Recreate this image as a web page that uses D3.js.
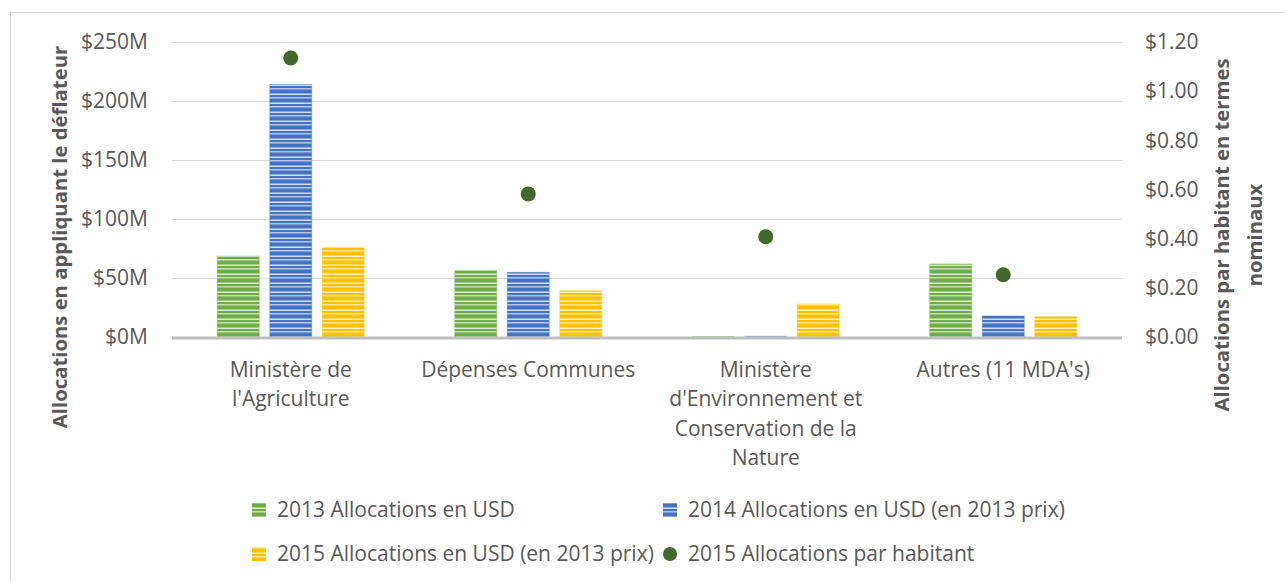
<!DOCTYPE html>
<html>
<head>
<meta charset="utf-8">
<script src="https://cdn.jsdelivr.net/npm/d3@7"></script>
<style>
  body { margin: 0; background: #fff; }
  text { font-family: "Open Sans", Lato, sans-serif; fill: #595959; }
</style>
</head>
<body>
<div id="chart"></div>
<script>
// categories, with the line breaks used on the axis
let categories = ["Ministère de l'Agriculture", "Dépenses Communes",
    "Ministère d'Environnement et Conservation de la Nature", "Autres (11 MDA's)"]
let categoryLines = [
    ["Ministère de", "l'Agriculture"],
    ["Dépenses Communes"],
    ["Ministère", "d'Environnement et", "Conservation de la", "Nature"],
    ["Autres (11 MDA's)"]
]

// allocations in millions USD
let alloc2013 = [68.6, 56.2, 0.4, 61.9]
let alloc2014 = [214, 54.8, 0.6, 17.8]
let alloc2015 = [76, 39.2, 28, 17.2]
// per capita (USD)
let perCapita2015 = [1.135, 0.582, 0.408, 0.253]

let leftTicks = [0, 50, 100, 150, 200, 250]
let rightTicks = [0, 0.2, 0.4, 0.6, 0.8, 1.0, 1.2]

let seriesNames = ["2013 Allocations en USD", "2014 Allocations en USD (en 2013 prix)",
    "2015 Allocations en USD (en 2013 prix)"]
let dotName = "2015 Allocations par habitant"
let seriesColors = ["#70ad47", "#4472c4", "#ffc000"]
let dotColor = "#43682b"

let W = 1285, H = 581
let plot = {left: 172, right: 1122, top: 42, bottom: 337}
let fontSize = '21px'
let titleSize = '20.3px'

let svg = d3.select('#chart')
    .append('svg')
    .attr('width', W)
    .attr('height', H)

// outer frame
svg.append('rect')
    .attr('x', 10.5).attr('y', 12.5)
    .attr('width', W).attr('height', H)
    .attr('fill', 'none')
    .attr('stroke', '#d9d9d9')

// striped patterns for the bars
let defs = svg.append('defs')
seriesColors.forEach((c, i) =>
{
    let p = defs.append('pattern')
        .attr('id', 'stripe' + i)
        .attr('patternUnits', 'userSpaceOnUse')
        .attr('width', 8).attr('height', 9)
    p.append('rect').attr('width', 8).attr('height', 9).attr('fill', c)
    p.append('rect').attr('y', 3.5).attr('width', 8).attr('height', 1.5).attr('fill', '#fff').attr('opacity', 0.75)
    p.append('rect').attr('y', 7).attr('width', 8).attr('height', 1.5).attr('fill', '#fff').attr('opacity', 0.6)
})

let yLeft = d3.scaleLinear().domain([0, 250]).range([plot.bottom, plot.top])
let yRight = d3.scaleLinear().domain([0, 1.2]).range([plot.bottom, plot.top])

let x0 = d3.scaleBand().domain(categories).range([plot.left, plot.right])
let x1 = d3.scaleBand().domain(seriesNames).range([-73.5, 73.5]).paddingInner(0.2).paddingOuter(0)

// gridlines
svg.append('g')
    .selectAll('line')
    .data(leftTicks.filter(t => t > 0))
    .enter()
    .append('line')
    .attr('x1', plot.left).attr('x2', plot.right)
    .attr('y1', d => yLeft(d) + 0.5).attr('y2', d => yLeft(d) + 0.5)
    .attr('stroke', '#d9d9d9')

// left axis
let leftAxis = svg.append('g')
    .attr('transform', `translate(${plot.left},0)`)
    .call(d3.axisLeft(yLeft).tickValues(leftTicks).tickSize(0).tickPadding(24).tickFormat(d => '$' + d + 'M'))
leftAxis.select('.domain').remove()
leftAxis.selectAll('text').style('font-size', fontSize).style('font-family', '"Open Sans", sans-serif').attr('fill', '#595959')

// right axis
let rightAxis = svg.append('g')
    .attr('transform', `translate(${plot.right},0)`)
    .call(d3.axisRight(yRight).tickValues(rightTicks).tickSize(0).tickPadding(23).tickFormat(d => '$' + d3.format('.2f')(d)))
rightAxis.select('.domain').remove()
rightAxis.selectAll('text').style('font-size', fontSize).style('font-family', '"Open Sans", sans-serif').attr('fill', '#595959')

// bars
let allSeries = [alloc2013, alloc2014, alloc2015]
allSeries.forEach((values, si) =>
{
    svg.append('g')
        .selectAll('rect')
        .data(values)
        .enter()
        .append('rect')
        .attr('x', (d, i) => x0(categories[i]) + x0.bandwidth() / 2 + x1(seriesNames[si]))
        .attr('width', x1.bandwidth())
        .attr('y', d => yLeft(d))
        .attr('height', d => yLeft(0) - yLeft(d))
        .attr('fill', 'url(#stripe' + si + ')')
        .attr('stroke', seriesColors[si])
        .attr('stroke-opacity', 0.35)
        .attr('stroke-width', 1)
})

// baseline
svg.append('line')
    .attr('x1', plot.left).attr('x2', plot.right)
    .attr('y1', yLeft(0) + 1).attr('y2', yLeft(0) + 1)
    .attr('stroke', '#bfbfbf')
    .attr('stroke-width', 3)

// per capita dots
svg.append('g')
    .selectAll('circle')
    .data(perCapita2015)
    .enter()
    .append('circle')
    .attr('cx', (d, i) => x0(categories[i]) + x0.bandwidth() / 2)
    .attr('cy', d => yRight(d))
    .attr('r', 7.5)
    .attr('fill', dotColor)

// category labels
let catG = svg.append('g')
categoryLines.forEach((lines, i) =>
{
    let t = catG.append('text')
        .attr('text-anchor', 'middle')
        .style('font-size', fontSize)
        .attr('x', x0(categories[i]) + x0.bandwidth() / 2)
        .attr('y', 377)
    lines.forEach((l, j) =>
    {
        t.append('tspan')
            .attr('x', x0(categories[i]) + x0.bandwidth() / 2)
            .attr('dy', j == 0 ? 0 : 29.3)
            .text(l)
    })
})

// axis titles
svg.append('text')
    .attr('transform', 'translate(67,237) rotate(-90)')
    .attr('text-anchor', 'middle')
    .style('font-size', titleSize)
    .style('font-weight', 'bold')
    .text('Allocations en appliquant le déflateur')

let rt = svg.append('text')
    .attr('transform', 'translate(1229,235) rotate(-90)')
    .attr('text-anchor', 'middle')
    .style('font-size', titleSize)
    .style('font-weight', 'bold')
rt.append('tspan').attr('x', 0).attr('y', 0).text('Allocations par habitant en termes')
rt.append('tspan').attr('x', 0).attr('y', 33).text('nominaux')

// legend
let legendItems = [
    {name: seriesNames[0], kind: 'bar', idx: 0, x: 252, y: 510},
    {name: seriesNames[1], kind: 'bar', idx: 1, x: 663, y: 510},
    {name: seriesNames[2], kind: 'bar', idx: 2, x: 252, y: 554},
    {name: dotName, kind: 'dot', x: 663, y: 554}
]
let lg = svg.append('g')
legendItems.forEach(it =>
{
    if (it.kind == 'bar')
        lg.append('rect')
            .attr('x', it.x).attr('y', it.y - 7)
            .attr('width', 14).attr('height', 14)
            .attr('fill', 'url(#stripe' + it.idx + ')')
    else
        lg.append('circle')
            .attr('cx', it.x + 7).attr('cy', it.y)
            .attr('r', 7)
            .attr('fill', dotColor)

    lg.append('text')
        .attr('x', it.x + 25)
        .attr('y', it.y)
        .attr('dy', '0.35em')
        .style('font-size', fontSize)
        .text(it.name)
})
</script>
</body>
</html>
